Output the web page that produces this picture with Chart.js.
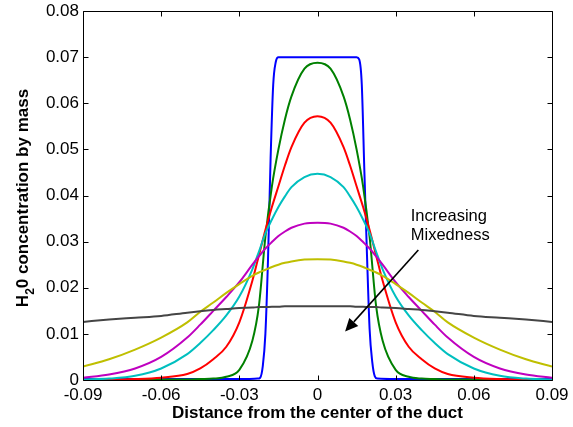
<!DOCTYPE html>
<html><head><meta charset="utf-8">
<script src="https://cdn.jsdelivr.net/npm/chart.js@4.4.1/dist/chart.umd.min.js"></script>
<style>html,body{margin:0;padding:0;background:#fff;}canvas{display:block;}</style>
</head><body>
<canvas id="c" width="573" height="427"></canvas>
<script>
// ---- data ----
const xs = [-0.09,-0.08,-0.07,-0.06,-0.05,-0.045,-0.04,-0.035,-0.03,-0.025,-0.0225,-0.02,-0.0175,-0.015,-0.0125,-0.01,-0.005,0,
            0.005,0.01,0.0125,0.015,0.0175,0.02,0.0225,0.025,0.03,0.035,0.04,0.045,0.05,0.06,0.07,0.08,0.09];
const grayY    = [.0126,.0131,.0135,.0139,.0146,.0149,.0152,.0154,.0156,.0157,.0158,.0158,.0159,.0159,.0160,.0160,.0160,.0160,
                  .0160,.0160,.0160,.0159,.0159,.0158,.0158,.0157,.0156,.0154,.0152,.0149,.0146,.0139,.0135,.0131,.0126];
const yellowY  = [.0029,.0045,.0066,.0092,.0125,.0148,.0168,.0189,.0208,.0226,.0233,.0239,.0245,.0250,.0254,.0257,.0261,.0262,
                  .0261,.0257,.0254,.0250,.0245,.0239,.0233,.0226,.0208,.0189,.0168,.0148,.0125,.0092,.0066,.0045,.0029];
const magentaY = [.0005,.0012,.0025,.0050,.0092,.0120,.0150,.0180,.0212,.0250,.0268,.0285,.0299,.0312,.0322,.0330,.0339,.0341,
                  .0339,.0330,.0322,.0312,.0299,.0285,.0268,.0250,.0212,.0180,.0150,.0120,.0092,.0050,.0025,.0012,.0005];
const cyanY    = [.0001,.0003,.0009,.0025,.0056,.0080,.0108,.0140,.0181,.0240,.0278,.0318,.0348,.0375,.0398,.0418,.0440,.0447,
                  .0440,.0418,.0398,.0375,.0348,.0318,.0278,.0240,.0181,.0140,.0108,.0080,.0056,.0025,.0009,.0003,.0001];
const redY     = [.0000,.0001,.0002,.0005,.0013,.0025,.0045,.0072,.0125,.0215,.0270,.0325,.0375,.0420,.0465,.0505,.0558,.0572,
                  .0558,.0505,.0465,.0420,.0375,.0325,.0270,.0215,.0125,.0072,.0045,.0025,.0013,.0005,.0002,.0001,.0000];
const greenY   = [.0000,.0000,.0000,.0001,.0001,.0002,.0003,.0007,.0022,.0085,.0160,.0310,.0420,.0500,.0565,.0615,.0675,.0688,
                  .0675,.0615,.0565,.0500,.0420,.0310,.0160,.0085,.0022,.0007,.0003,.0002,.0001,.0001,.0000,.0000,.0000];
const blueX = [-0.09,-0.03,-0.023,-0.022,-0.021,-0.020,-0.019,-0.018,-0.017,-0.016,-0.015,-0.01,0,
               0.01,0.015,0.016,0.017,0.018,0.019,0.020,0.021,0.022,0.023,0.03,0.09];
const blueY = [.0002,.0002,.0003,.0005,.0030,.0100,.0260,.0480,.0640,.0690,.0700,.0700,.0700,
               .0700,.0700,.0695,.0640,.0450,.0270,.0110,.0040,.0008,.0003,.0002,.0002];
const xTicks = [-0.09,-0.06,-0.03,0,0.03,0.06,0.09];
const xTickLabels = ['-0.09','-0.06','-0.03','0','0.03','0.06','0.09'];
const yTicks = [0,0.01,0.02,0.03,0.04,0.05,0.06,0.07,0.08];
const yTickLabels = ['0','0.01','0.02','0.03','0.04','0.05','0.06','0.07','0.08'];
const xTitle = 'Distance from the center of the duct';
const yTitleParts = ['H','2','0 concentration by mass'];
const noteLines = ['Increasing','Mixedness'];

// ---- build ----
const FONT = "'Liberation Sans', Arial, Helvetica, sans-serif";
const pts = (X, Y) => X.map((v, i) => ({x: v, y: Y[i]}));
const series = [
  {d: pts(blueX, blueY), c: '#0000FF'},
  {d: pts(xs, greenY), c: '#008000'},
  {d: pts(xs, redY), c: '#FF0000'},
  {d: pts(xs, cyanY), c: '#00BFBF'},
  {d: pts(xs, magentaY), c: '#BF00BF'},
  {d: pts(xs, yellowY), c: '#BFBF00'},
  {d: pts(xs, grayY), c: '#454545'}
];

const overlay = {
  id: 'overlay',
  afterDraw(chart) {
    const {ctx, chartArea: a, scales: {x, y}} = chart;
    ctx.save();
    ctx.strokeStyle = '#000'; ctx.lineWidth = 1;
    const L = Math.round(a.left) + 0.5, R = Math.round(a.right) + 0.5;
    const T = Math.round(a.top) + 0.5, B = Math.round(a.bottom) + 0.5;
    ctx.beginPath(); ctx.rect(L, T, R - L, B - T); ctx.stroke();
    const TL = 5;
    ctx.beginPath();
    xTicks.forEach(v => { const p = Math.round(x.getPixelForValue(v)) + 0.5;
      ctx.moveTo(p, B); ctx.lineTo(p, B - TL); ctx.moveTo(p, T); ctx.lineTo(p, T + TL); });
    yTicks.forEach(v => { const p = Math.round(y.getPixelForValue(v)) + 0.5;
      ctx.moveTo(L, p); ctx.lineTo(L + TL, p); ctx.moveTo(R, p); ctx.lineTo(R - TL, p); });
    ctx.stroke();

    // y-axis title with subscript
    ctx.fillStyle = '#000';
    const big = 'bold 17px ' + FONT, small = 'bold 12px ' + FONT;
    ctx.font = big; const w0 = ctx.measureText(yTitleParts[0]).width;
    const w2 = ctx.measureText(yTitleParts[2]).width;
    ctx.font = small; const w1 = ctx.measureText(yTitleParts[1]).width;
    const total = w0 + w1 + w2;
    const cy = (a.top + a.bottom) / 2 + 2.5;
    ctx.translate(a.left - 55.5, cy + total / 2);
    ctx.rotate(-Math.PI / 2);
    ctx.textBaseline = 'alphabetic'; ctx.textAlign = 'left';
    ctx.font = big; ctx.fillText(yTitleParts[0], 0, 0);
    ctx.font = small; ctx.fillText(yTitleParts[1], w0, 6);
    ctx.font = big; ctx.fillText(yTitleParts[2], w0 + w1, 0);
    ctx.setTransform(1, 0, 0, 1, 0, 0);

    // annotation
    ctx.font = '16.5px ' + FONT;
    const tx = x.getPixelForValue(0.0358), ty = y.getPixelForValue(0.0345);
    ctx.fillText(noteLines[0], tx, ty);
    ctx.fillText(noteLines[1], tx, ty + 19);
    const x0 = x.getPixelForValue(0.0387), y0 = y.getPixelForValue(0.0282);
    const x1 = x.getPixelForValue(0.0106), y1 = y.getPixelForValue(0.0105);
    const ang = Math.atan2(y1 - y0, x1 - x0), hl = 13, hw = 6;
    const bx = x1 - hl * Math.cos(ang), by = y1 - hl * Math.sin(ang);
    ctx.lineWidth = 1.6;
    ctx.beginPath(); ctx.moveTo(x0, y0); ctx.lineTo(bx, by); ctx.stroke();
    ctx.beginPath();
    ctx.moveTo(x1, y1);
    ctx.lineTo(bx + hw * Math.sin(ang), by - hw * Math.cos(ang));
    ctx.lineTo(bx - hw * Math.sin(ang), by + hw * Math.cos(ang));
    ctx.closePath(); ctx.fill();
    ctx.restore();
  }
};

new Chart(document.getElementById('c'), {
  type: 'line',
  data: {
    datasets: series.map((s, i) => ({
      data: s.d, borderColor: s.c, backgroundColor: s.c, borderWidth: 2,
      pointRadius: 0, fill: false, cubicInterpolationMode: 'monotone',
      order: series.length - i
    }))
  },
  options: {
    responsive: false, animation: false, devicePixelRatio: 1,
    layout: {padding: {top: 11, right: 21, bottom: 0, left: 0}},
    plugins: {legend: {display: false}, tooltip: {enabled: false}},
    scales: {
      x: {
        type: 'linear', min: -0.09, max: 0.09,
        afterBuildTicks: s => { s.ticks = xTicks.map(v => ({value: v})); },
        afterFit: s => { s.height = 47; s.paddingLeft = 0; s.paddingRight = 0; },
        grid: {display: false, drawTicks: false},
        border: {display: false},
        ticks: {color: '#000', font: {family: FONT, size: 17}, padding: 5, maxRotation: 0,
                callback: (v, i) => xTickLabels[i]},
        title: {display: true, text: xTitle, color: '#000',
                font: {family: FONT, size: 17, weight: 'bold'}, padding: {top: 0, bottom: 3}}
      },
      y: {
        type: 'linear', min: 0, max: 0.08,
        afterBuildTicks: s => { s.ticks = yTicks.map(v => ({value: v})); },
        afterFit: s => { s.width = 83; s.paddingTop = 0; s.paddingBottom = 0; },
        grid: {display: false, drawTicks: false},
        border: {display: false},
        ticks: {color: '#000', font: {family: FONT, size: 17}, padding: 4,
                callback: (v, i) => yTickLabels[i]}
      }
    }
  },
  plugins: [overlay]
});
</script>
</body></html>
